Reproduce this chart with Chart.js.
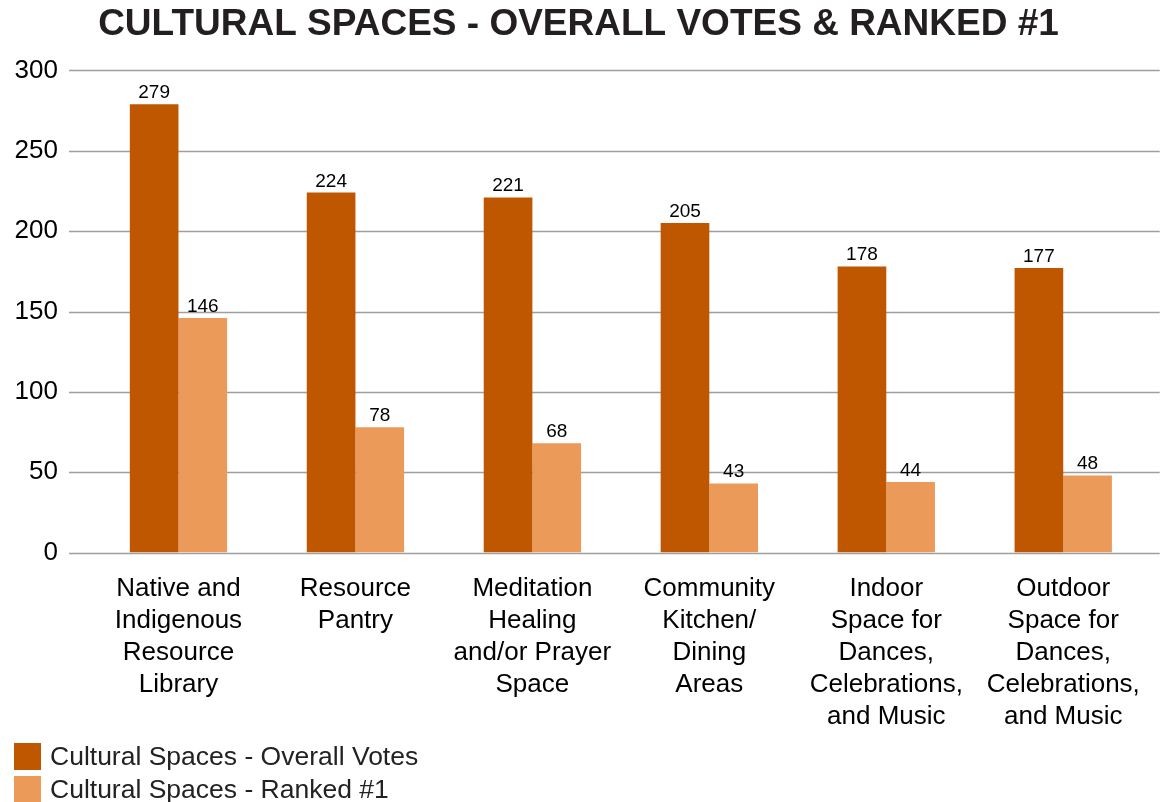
<!DOCTYPE html>
<html>
<head>
<meta charset="utf-8">
<script src="https://cdn.jsdelivr.net/npm/chart.js@4"></script>
<style>
  html, body { margin: 0; padding: 0; background: #fff; }
  #wrap { position: relative; width: 1161px; height: 802px; }
  #legenda { position: absolute; left: 14px; top: 743px; font-family: 'Liberation Sans', Arial, sans-serif; font-size: 26.5px; color: #222; }
  .item { display: flex; align-items: center; height: 27px; margin-bottom: 6px; white-space: nowrap; }
  .caixa { width: 27px; height: 27px; margin-right: 9px; }
</style>
</head>
<body>
<div id="wrap">
  <canvas id="grafico"></canvas>
  <div id="legenda"></div>
</div>
<script>
const categorias = [
    ["Native and", "Indigenous", "Resource", "Library"],
    ["Resource", "Pantry"],
    ["Meditation", "Healing", "and/or Prayer", "Space"],
    ["Community", "Kitchen/", "Dining", "Areas"],
    ["Indoor", "Space for", "Dances,", "Celebrations,", "and Music"],
    ["Outdoor", "Space for", "Dances,", "Celebrations,", "and Music"]
];
const votosGerais = [279, 224, 221, 205, 178, 177];
const rankedPrimeiro = [146, 78, 68, 43, 44, 48];
const ticksY = [0, 50, 100, 150, 200, 250, 300];

Chart.defaults.font.family = "'Liberation Sans', Arial, sans-serif";

// linhas de grade que passam um pouco das bordas
const gradePlugin = {
    id: "grade",
    beforeDatasetsDraw(chart) {
        const ctx = chart.ctx;
        const area = chart.chartArea;
        const y = chart.scales.y;
        ctx.save();
        ctx.strokeStyle = "#9e9e9e";
        ctx.lineWidth = 1.5;
        ticksY.forEach((v) => {
            const py = Math.round(y.getPixelForValue(v)) + 0.5;
            ctx.beginPath();
            ctx.moveTo(area.left - 21, py);
            ctx.lineTo(area.right + 8, py);
            ctx.stroke();
        });
        ctx.restore();
    }
};

// valores em cima das barras
const valoresPlugin = {
    id: "valores",
    afterDatasetsDraw(chart) {
        const ctx = chart.ctx;
        ctx.save();
        ctx.font = "19px 'Liberation Sans', Arial, sans-serif";
        ctx.fillStyle = "#000";
        ctx.textAlign = "center";
        ctx.textBaseline = "alphabetic";
        chart.data.datasets.forEach((ds, i) => {
            chart.getDatasetMeta(i).data.forEach((bar, j) => {
                ctx.fillText(ds.data[j], bar.x, bar.y - 6);
            });
        });
        ctx.restore();
    }
};

const grafico = new Chart(document.getElementById("grafico"), {
    type: "bar",
    data: {
        labels: categorias,
        datasets: [
            {
                label: "Cultural Spaces - Overall Votes",
                data: votosGerais,
                backgroundColor: "#bf5700"
            },
            {
                label: "Cultural Spaces - Ranked #1",
                data: rankedPrimeiro,
                backgroundColor: "#eb9a59"
            }
        ]
    },
    options: {
        responsive: true,
        maintainAspectRatio: false,
        animation: false,
        categoryPercentage: 0.55,
        barPercentage: 1,
        layout: { padding: { left: 4, right: 8, top: 3, bottom: 48.5 } },
        plugins: {
            title: {
                display: true,
                text: "CULTURAL SPACES - OVERALL VOTES & RANKED #1",
                color: "#231f20",
                font: { size: 37, weight: "bold" },
                padding: { top: 0, bottom: 23 }
            },
            legend: { display: false },
            tooltip: { enabled: false }
        },
        scales: {
            x: {
                grid: { display: false, drawTicks: false },
                border: { display: false },
                ticks: {
                    color: "#000",
                    padding: 20.5,
                    maxRotation: 0,
                    autoSkip: false,
                    font: { size: 26, lineHeight: 1.23 }
                }
            },
            y: {
                min: 0,
                max: 300,
                grid: { display: false, drawTicks: false },
                border: { display: false },
                afterFit: (s) => { s.width = 86; },
                afterBuildTicks: (s) => { s.ticks = ticksY.map((v) => ({ value: v })); },
                ticks: {
                    color: "#000",
                    padding: 32,
                    font: { size: 26 }
                }
            }
        }
    },
    plugins: [gradePlugin, valoresPlugin]
});

// legenda em html, um item por linha
const legenda = document.getElementById("legenda");
grafico.data.datasets.forEach((ds) => {
    const item = document.createElement("div");
    item.className = "item";
    const caixa = document.createElement("span");
    caixa.className = "caixa";
    caixa.style.background = ds.backgroundColor;
    const texto = document.createElement("span");
    texto.textContent = ds.label;
    item.appendChild(caixa);
    item.appendChild(texto);
    legenda.appendChild(item);
});
</script>
</body>
</html>
